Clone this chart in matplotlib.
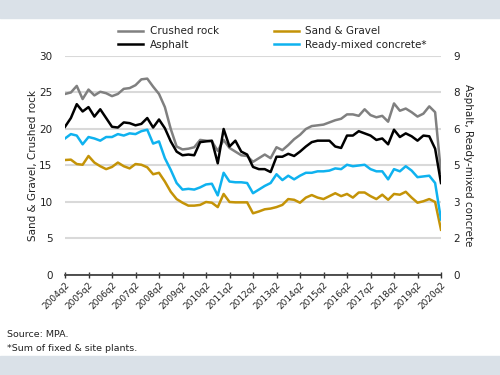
import matplotlib.pyplot as plt
import numpy as np
from matplotlib.patches import Rectangle

# quarters 2004q2 .. 2020q2
quarters = [f"{y}q{q}" for y in range(2004, 2021) for q in range(1, 5)][1:66]
year_ticks = [f"{y}q2" for y in range(2004, 2021)]

# left axis (Mt)
crushed_rock = [24.8, 25.0, 25.9, 24.1, 25.4, 24.6, 25.1, 24.9, 24.5, 24.8,
                25.5, 25.6, 26.0, 26.8, 26.9, 25.8, 24.8, 23.0, 20.0, 17.6,
                17.2, 17.3, 17.5, 18.5, 18.4, 18.3, 17.0, 18.5, 17.4, 16.9,
                16.4, 16.3, 15.5, 16.0, 16.5, 16.0, 17.5, 17.1, 17.8, 18.6,
                19.2, 20.0, 20.4, 20.5, 20.6, 20.9, 21.2, 21.4, 22.0, 22.0,
                21.8, 22.7, 21.9, 21.6, 21.8, 21.0, 23.5, 22.5, 22.8, 22.3,
                21.7, 22.1, 23.1, 22.3, 14.0]
sand_gravel = [15.75, 15.8, 15.2, 15.1, 16.3, 15.4, 14.9, 14.5, 14.8, 15.4,
               14.9, 14.6, 15.2, 15.1, 14.75, 13.8, 14.0, 12.8, 11.4, 10.4,
               9.9, 9.5, 9.5, 9.6, 10.0, 9.9, 9.3, 11.1, 10.0, 9.95,
               9.95, 9.95, 8.45, 8.7, 9.0, 9.1, 9.3, 9.6, 10.4, 10.3,
               9.9, 10.6, 10.95, 10.6, 10.4, 10.8, 11.2, 10.8, 11.1, 10.6,
               11.3, 11.3, 10.8, 10.4, 11.0, 10.3, 11.1, 11.0, 11.4, 10.6,
               9.9, 10.1, 10.4, 10.0, 6.2]

# right axis (Mt / Mm3)
asphalt = [6.09, 6.45, 7.02, 6.72, 6.90, 6.51, 6.81, 6.45, 6.09, 6.06,
           6.27, 6.24, 6.15, 6.21, 6.45, 6.06, 6.39, 6.03, 5.49, 5.07,
           4.92, 4.95, 4.92, 5.46, 5.49, 5.52, 4.59, 6.00, 5.28, 5.52,
           5.07, 4.95, 4.44, 4.35, 4.35, 4.23, 4.86, 4.86, 4.98, 4.89,
           5.07, 5.28, 5.46, 5.52, 5.52, 5.52, 5.28, 5.22, 5.73, 5.73,
           5.91, 5.82, 5.73, 5.55, 5.61, 5.37, 5.97, 5.67, 5.82, 5.70,
           5.52, 5.73, 5.70, 5.19, 3.78]
ready_mixed = [5.61, 5.79, 5.73, 5.37, 5.67, 5.61, 5.52, 5.67, 5.67, 5.79,
               5.73, 5.82, 5.79, 5.91, 5.97, 5.40, 5.49, 4.80, 4.32, 3.78,
               3.51, 3.54, 3.51, 3.60, 3.72, 3.75, 3.27, 4.20, 3.84, 3.81,
               3.81, 3.78, 3.36, 3.51, 3.66, 3.78, 4.14, 3.90, 4.08, 3.93,
               4.08, 4.20, 4.20, 4.26, 4.26, 4.29, 4.38, 4.35, 4.53, 4.47,
               4.50, 4.53, 4.35, 4.26, 4.26, 3.93, 4.35, 4.26, 4.47, 4.29,
               4.02, 4.05, 4.08, 3.78, 2.28]

left_ticks = [0, 5, 10, 15, 20, 25, 30]
right_ticks = [0, 1.5, 3, 4.5, 6, 7.5, 9]
right_labels = ["0", "2", "3", "5", "6", "8", "9"]

x = np.arange(len(quarters))
txt = "#222222"

fig = plt.figure(figsize=(5, 3.75), dpi=100)
band = "#dae1e8"
fig.patches.append(Rectangle((0, 0.951), 1, 0.049, transform=fig.transFigure,
                             color=band, zorder=0))
fig.patches.append(Rectangle((0, 0), 1, 0.051, transform=fig.transFigure,
                             color=band, zorder=0))

ax = fig.add_axes([0.13, 0.2667, 0.752, 0.584])
ax2 = ax.twinx()

ax.set_ylim(0, 30)
ax2.set_ylim(0, 9)
ax.set_xlim(0, len(quarters) - 1)

ax.set_yticks(left_ticks)
ax.set_yticklabels([str(t) for t in left_ticks])
ax2.set_yticks(right_ticks)
ax2.set_yticklabels(right_labels)
ax.grid(axis="y", color="#d9d9d9", linewidth=1.5)
ax.set_axisbelow(True)

l_cr, = ax.plot(x, crushed_rock, color="#808080", lw=1.8, label="Crushed rock")
l_sg, = ax.plot(x, sand_gravel, color="#c49307", lw=1.8, label="Sand & Gravel")
l_rm, = ax2.plot(x, ready_mixed, color="#0fb2ef", lw=1.8, label="Ready-mixed concrete*")
l_as, = ax2.plot(x, asphalt, color="#000000", lw=1.8, label="Asphalt")

tick_pos = [quarters.index(t) for t in year_ticks]
ax.set_xticks(tick_pos)
ax.set_xticklabels(year_ticks, rotation=45, ha="right", rotation_mode="anchor",
                   fontsize=6.5, color=txt)
ax.tick_params(axis="x", direction="inout", length=4, width=1, color="#333333", pad=2)
ax.tick_params(axis="y", length=0, labelsize=7.5, pad=9, labelcolor=txt)
ax2.tick_params(axis="y", length=0, labelsize=7.5, pad=9, labelcolor=txt)

for a in (ax, ax2):
    for s in ("top", "left", "right", "bottom"):
        a.spines[s].set_visible(False)
ax.spines["bottom"].set_visible(True)
ax.spines["bottom"].set_color("#333333")
ax.spines["bottom"].set_linewidth(1.2)

ax.set_ylabel("Sand & Gravel, Crushed rock", fontsize=7.5, labelpad=1, color=txt)
ax2.set_ylabel("Asphalt, Ready-mixed concrete", fontsize=7.5, rotation=270,
               labelpad=9, color=txt)

fig.legend(handles=[l_cr, l_as, l_sg, l_rm], ncol=2, loc="upper center",
           bbox_to_anchor=(0.545, 0.955), frameon=False, fontsize=7.5,
           handlelength=2.4, columnspacing=5.3, labelspacing=0.35,
           handletextpad=0.6, labelcolor=txt)

fig.text(0.014, 0.101, "Source: MPA.", fontsize=6.8, color=txt)
fig.text(0.014, 0.064, "*Sum of fixed & site plants.", fontsize=6.8, color=txt)

fig.savefig("out.png", dpi=100)
